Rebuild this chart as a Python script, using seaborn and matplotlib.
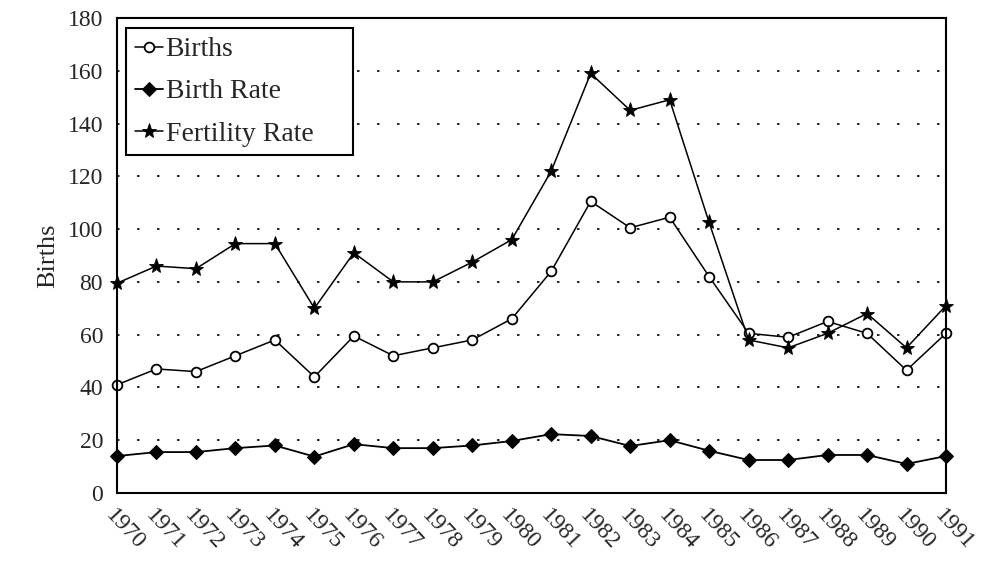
import pandas as pd
import numpy as np
import matplotlib
matplotlib.use("Agg")
import matplotlib.pyplot as plt
import seaborn as sns

# values
years = list(range(1970, 1992))
births = [41, 47, 46, 52, 58, 44, 59.5, 52, 55, 58, 66, 84,
          110.5, 100.5, 104.5, 82, 60.5, 59, 65, 60.5, 46.5, 60.5]
birth_rate = [14, 15.5, 15.5, 17, 18, 13.8, 18.5, 17, 17, 18, 19.7, 22.3,
              21.6, 17.8, 20, 16, 12.5, 12.5, 14.4, 14.4, 11, 14]
fertility_rate = [79.5, 86, 85, 94.5, 94.5, 70, 91, 80, 80, 87.5, 96, 122,
                  159, 145, 149, 102.5, 58, 55, 60.5, 68, 55, 71]

df = pd.DataFrame({"Year": years, "Births": births,
                   "Birth Rate": birth_rate, "Fertility Rate": fertility_rate})

sns.set_style("white")
plt.rcParams["font.family"] = ["Liberation Serif", "DejaVu Serif"]

fig = plt.figure(figsize=(9.89, 5.62), dpi=100)
ax = fig.add_axes([0.1183, 0.1228, 0.8382, 0.8452])

sns.lineplot(data=df, x="Year", y="Births", ax=ax, color="black", lw=1.1,
             marker="o", markersize=7, markerfacecolor="white",
             markeredgecolor="black", markeredgewidth=1.3, label="Births",
             clip_on=False)
sns.lineplot(data=df, x="Year", y="Birth Rate", ax=ax, color="black", lw=1.3,
             marker="D", markersize=7, markerfacecolor="black",
             markeredgecolor="black", label="Birth Rate", clip_on=False)
sns.lineplot(data=df, x="Year", y="Fertility Rate", ax=ax, color="black", lw=1.1,
             marker="*", markersize=11, markerfacecolor="black",
             markeredgecolor="black", markeredgewidth=0.6, label="Fertility Rate",
             clip_on=False)

ax.set_xlim(1970, 1991)
ax.set_ylim(0, 180)
ax.set_yticks(range(0, 181, 20))
ax.set_xticks(years)
ax.set_xticklabels([str(y) for y in years], rotation=-47, ha="left",
                   va="top", rotation_mode="anchor", fontsize=17)
ax.tick_params(axis="y", labelsize=17, direction="in", length=4, width=1, pad=10)
ax.tick_params(axis="x", length=0, pad=9)
ax.set_xlabel("")
ax.set_ylabel("Births", fontsize=19, labelpad=6)

for y in range(20, 180, 20):
    ax.axhline(y, color="black", lw=1.2, linestyle=(0, (1.5, 10.5)), zorder=0)

for sp in ax.spines.values():
    sp.set_visible(True)
    sp.set_color("black")
    sp.set_linewidth(1.5)

leg = ax.legend(loc="upper left", bbox_to_anchor=(0.011, 0.0, 0.274, 0.979),
                mode="expand", fontsize=20, frameon=True, fancybox=False,
                framealpha=1, handlelength=1.0, handletextpad=0.1, borderpad=0.32,
                labelspacing=0.6, borderaxespad=0)
leg.get_frame().set_edgecolor("black")
leg.get_frame().set_linewidth(1.5)

fig.savefig("out.png", dpi=100)
